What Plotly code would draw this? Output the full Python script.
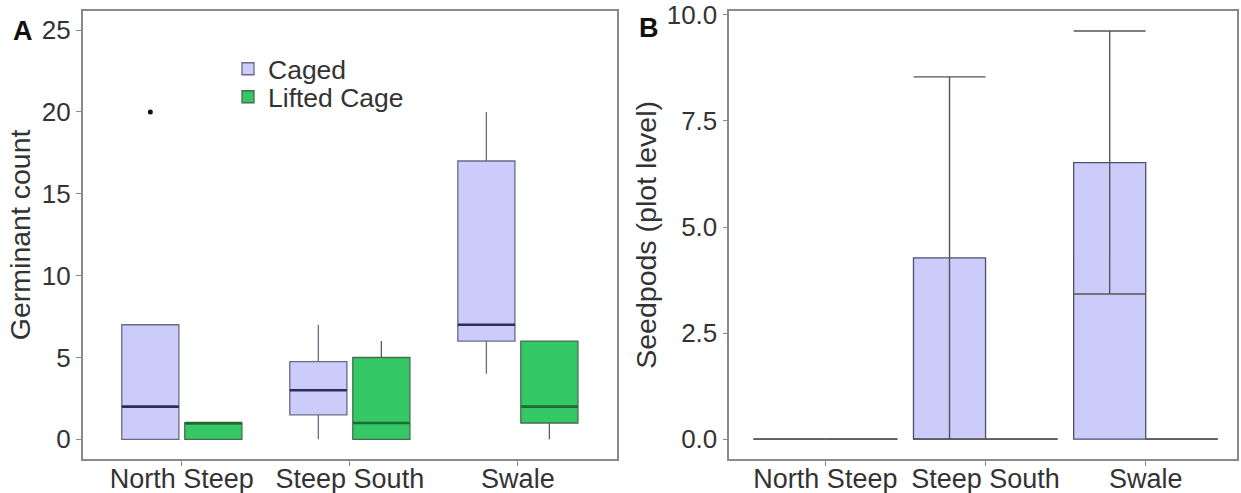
import plotly.graph_objects as go

# ---------------- data ----------------
sites = ["North Steep", "Steep South", "Swale"]

# Panel A: germinant count box statistics
caged_q1 = [0, 1.5, 6]
caged_median = [2, 3, 7]
caged_q3 = [7, 4.75, 17]
caged_lower = [0, 0, 4]
caged_upper = [7, 7, 20]
caged_outlier_site = [0]
caged_outlier_value = [20]

lifted_q1 = [0, 0, 1]
lifted_median = [1, 1, 2]
lifted_q3 = [1, 5, 6]
lifted_lower = [0, 0, 0]
lifted_upper = [1, 6, 6]

# Panel B: seedpods (plot level), mean and error
caged_pods_mean = [0, 4.27, 6.52]
caged_pods_err = [0, 4.27, 3.1]
lifted_pods_mean = [0, 0, 0]
lifted_pods_err = [0, 0, 0]

groups = ["Caged", "Lifted Cage"]
y_ticks_a = [0, 5, 10, 15, 20, 25]
y_ticks_b = [0, 2.5, 5, 7.5, 10]
y_ticklabels_b = ["0.0", "2.5", "5.0", "7.5", "10.0"]

# ---------------- style ----------------
FONT = "Liberation Sans, Arial, sans-serif"
TXT = "#333333"
CAGED_FILL = "rgb(204,204,250)"
LIFTED_FILL = "rgb(52,201,100)"
CAGED_LINE = "#6a6a88"
LIFTED_LINE = "#4a6a55"
CAGED_MED = "#2e2e55"
LIFTED_MED = "#1d6b33"
FRAME = "#8a8a8a"

dodge = 0.1875
box_w = 0.34
pos = list(range(len(sites)))
x_caged = [p - dodge for p in pos]
x_lifted = [p + dodge for p in pos]

fig = go.Figure()

# Panel A boxes
fig.add_trace(go.Box(
    x=x_caged, q1=caged_q1, median=caged_median, q3=caged_q3,
    lowerfence=caged_lower, upperfence=caged_upper,
    width=box_w, whiskerwidth=0, name=groups[0], boxpoints=False,
    fillcolor=CAGED_FILL, line=dict(color=CAGED_LINE, width=1.3),
    legend="legend", xaxis="x", yaxis="y", hoverinfo="skip"))
fig.add_trace(go.Box(
    x=x_lifted, q1=lifted_q1, median=lifted_median, q3=lifted_q3,
    lowerfence=lifted_lower, upperfence=lifted_upper,
    width=box_w, whiskerwidth=0, name=groups[1], boxpoints=False,
    fillcolor=LIFTED_FILL, line=dict(color=LIFTED_LINE, width=1.3),
    legend="legend2", xaxis="x", yaxis="y", hoverinfo="skip"))

# thicker median lines
for xs, med, col in [(x_caged, caged_median, CAGED_MED), (x_lifted, lifted_median, LIFTED_MED)]:
    fig.add_trace(go.Box(
        x=xs, q1=med, median=med, q3=med, lowerfence=med, upperfence=med,
        width=box_w, whiskerwidth=0, boxpoints=False, showlegend=False,
        fillcolor="rgba(0,0,0,0)", line=dict(color=col, width=2.6),
        xaxis="x", yaxis="y", hoverinfo="skip"))

# outlier
fig.add_trace(go.Scatter(
    x=[pos[i] - dodge for i in caged_outlier_site], y=caged_outlier_value,
    mode="markers", marker=dict(color="#111111", size=5),
    showlegend=False, xaxis="x", yaxis="y", hoverinfo="skip"))

# Panel B bars
err_style = dict(type="data", color="#555555", thickness=1.4, width=36)
fig.add_trace(go.Bar(
    x=sites, y=caged_pods_mean, name=groups[0], showlegend=False,
    marker=dict(color=CAGED_FILL, line=dict(color="#4d4d70", width=1.3)),
    error_y=dict(array=caged_pods_err, **err_style),
    xaxis="x2", yaxis="y2", hoverinfo="skip"))
fig.add_trace(go.Bar(
    x=sites, y=lifted_pods_mean, name=groups[1], showlegend=False,
    marker=dict(color=LIFTED_FILL, line=dict(color="#4d4d70", width=1.3)),
    error_y=dict(array=lifted_pods_err, **err_style),
    xaxis="x2", yaxis="y2", hoverinfo="skip"))

axis_common = dict(
    showline=True, mirror=True, linecolor=FRAME, linewidth=1.6,
    ticks="outside", ticklen=5, tickcolor=FRAME, tickwidth=1.2,
    showgrid=False, zeroline=False, automargin=False,
)
xtick_font = dict(family=FONT, size=27, color=TXT)
ytick_font = dict(family=FONT, size=26, color=TXT)
title_font = dict(family=FONT, size=28.5, color=TXT)

W, H = 1241, 493
ytop, ybot = 10.7, 459.0
ydom = [1 - ybot / H, 1 - ytop / H]

legend_common = dict(xanchor="left", yanchor="middle", bgcolor="rgba(0,0,0,0)",
                     font=dict(family=FONT, size=26.5, color=TXT))

fig.update_layout(
    template="none",
    width=W, height=H,
    margin=dict(l=0, r=0, t=0, b=0, pad=0),
    paper_bgcolor="white", plot_bgcolor="white",
    font=dict(family=FONT, size=26, color=TXT),
    boxmode="overlay", barmode="group", bargap=0.1, bargroupgap=0,
    xaxis=dict(domain=[82.7 / W, 617 / W], range=[-0.59, 2.59],
               tickvals=pos, ticktext=sites, anchor="y",
               tickfont=xtick_font, ticklabelstandoff=-10, **axis_common),
    yaxis=dict(domain=ydom, range=[-1.2, 26.18], tickvals=y_ticks_a,
               anchor="x", tickfont=ytick_font,
               title=dict(text="Germinant count", standoff=3, font=title_font),
               **axis_common),
    xaxis2=dict(domain=[729.3 / W, 1237 / W], range=[-0.6, 2.57],
                type="category", anchor="y2",
                tickfont=xtick_font, ticklabelstandoff=-10, **axis_common),
    yaxis2=dict(domain=ydom, range=[-0.47, 10.1], tickvals=y_ticks_b,
                ticktext=y_ticklabels_b, anchor="x2", tickfont=ytick_font,
                title=dict(text="Seedpods (plot level)", standoff=2, font=title_font),
                **axis_common),
    legend=dict(x=228 / W, y=1 - 69 / H, **legend_common),
    legend2=dict(x=228 / W, y=1 - 97 / H, **legend_common),
    annotations=[
        dict(text="<b>A</b>", x=23 / W, y=1 - 31 / H, xref="paper", yref="paper",
             xanchor="center", yanchor="middle",
             showarrow=False, font=dict(family=FONT, size=27, color="#111111")),
        dict(text="<b>B</b>", x=649 / W, y=1 - 28 / H, xref="paper", yref="paper",
             xanchor="center", yanchor="middle",
             showarrow=False, font=dict(family=FONT, size=27, color="#111111")),
    ],
)

fig.write_html("out.html", config={"displayModeBar": False},
               post_script="document.body.style.margin='0';")
